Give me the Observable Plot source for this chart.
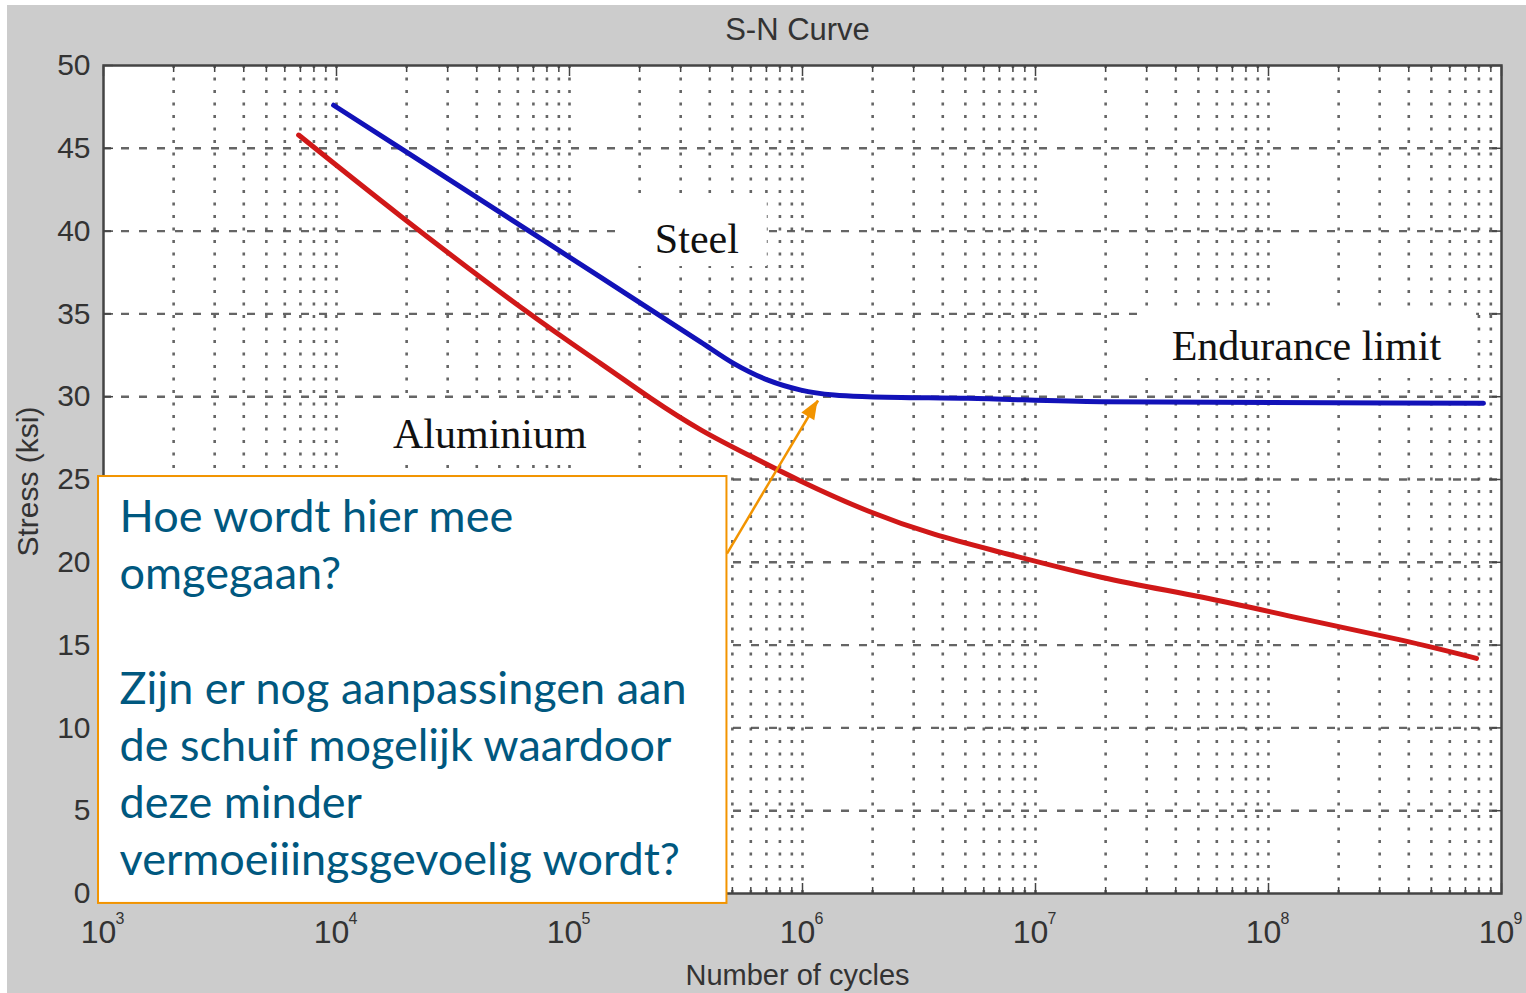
<!DOCTYPE html>
<html><head><meta charset="utf-8">
<script src="https://cdn.jsdelivr.net/npm/d3@7"></script>
<script src="https://cdn.jsdelivr.net/npm/@observablehq/plot@0.6"></script>
<style>
html,body{margin:0;padding:0;background:#fff;}
#chart{position:absolute;left:7px;top:5px;width:1519px;height:988px;background:#cccccc;overflow:hidden;}
</style></head><body><div id="chart"></div>
<script>
// ---- data ----
const steelCycles = [9.72e3, 1.887e4, 1.363e5, 3.66e5, 5.08e5, 7.11e5, 9.85e5, 1.366e6, 1.91e6, 5.14e6, 1.915e7, 8.37e8];
const steelStress = [47.6, 45.0, 37.2, 33.3, 32.0, 31.0, 30.4, 30.1, 30.0, 29.9, 29.7, 29.6];
const aluCycles = [6.88e3, 1.887e4, 6.18e4, 1.363e5, 2.236e5, 3.66e5, 6.01e5, 9.85e5, 1.912e6, 3.67e6, 7.12e6, 1.915e7, 5.15e7, 1.384e8, 3.72e8, 7.81e8];
const aluStress = [45.8, 40.9, 35.4, 32.0, 29.9, 28.0, 26.4, 24.9, 23.1, 21.7, 20.6, 19.1, 17.9, 16.6, 15.3, 14.2];

const decades = [1e3, 1e4, 1e5, 1e6, 1e7, 1e8, 1e9];
const exponents = ["3", "4", "5", "6", "7", "8", "9"];
const multiples = [1, 2, 3, 4, 5, 6, 7, 8, 9];
const stressTicks = [0, 5, 10, 15, 20, 25, 30, 35, 40, 45, 50];

const labelText = ["Steel", "Endurance limit", "Aluminium"];
const labelCycles = [3.52e5, 1.454e8, 4.55e4];
const labelStress = [38.7, 32.2, 26.9];
const labelBoxX1 = [1.712e5, 2.84e7, 1.473e4];
const labelBoxX2 = [7.06e5, 7.82e8, 1.363e5];
const labelBoxY1 = [37.86, 31.10, 25.85];
const labelBoxY2 = [41.97, 35.33, 29.89];

const calloutLines = ["Hoe wordt hier mee", "omgegaan?", "", "Zijn er nog aanpassingen aan", "de schuif mogelijk waardoor", "deze minder", "vermoeiiingsgevoelig wordt?"];
const calloutBoxX = [952, 4.74e5];
const calloutBoxY = [-0.60, 25.18];
const calloutTextX = [1172];
const calloutTextY = [1.09];
const arrowCycles = [4.74e5, 1.166e6];
const arrowStress = [20.53, 29.77];

// ---- derived helpers ----
const minorGrid = decades.slice(0, -1).flatMap(d => multiples.map(m => m * d)).filter(v => v > 1e3);
const minorOnly = minorGrid.filter(v => !decades.includes(v));
const steelIdx = d3.range(steelCycles.length);
const aluIdx = d3.range(aluCycles.length);
const labelIdx = d3.range(labelText.length);

const gridColor = "#4a4a4a";
const orange = "#f29400";

function arrowHead(index, scales) {
  const x1 = scales.x(arrowCycles[0]), y1 = scales.y(arrowStress[0]);
  const x2 = scales.x(arrowCycles[1]), y2 = scales.y(arrowStress[1]);
  const len = Math.hypot(x2 - x1, y2 - y1);
  const ux = (x2 - x1) / len, uy = (y2 - y1) / len;
  const nx = -uy, ny = ux;
  const L = 19, w = 7.5;
  const bx = x2 - L * ux, by = y2 - L * uy;
  const p = document.createElementNS("http://www.w3.org/2000/svg", "path");
  p.setAttribute("d", `M${x2},${y2}L${bx + w * nx},${by + w * ny}L${bx - w * nx},${by - w * ny}Z`);
  p.setAttribute("fill", orange);
  return p;
}

const sans = "'Liberation Sans', Arial, Helvetica, sans-serif";
const serif = "'Liberation Serif', 'Times New Roman', serif";

const chart = Plot.plot({
  width: 1519,
  height: 988,
  marginLeft: 96,
  marginRight: 25,
  marginTop: 60,
  marginBottom: 100,
  x: {type: "log", domain: [1e3, 1e9]},
  y: {domain: [0, 50]},
  style: {background: "transparent", fontFamily: sans, color: "#333", overflow: "visible"},
  marks: [
    Plot.frame({fill: "white"}),
    Plot.ruleX(minorGrid, {x: d => d, stroke: gridColor, strokeWidth: 2.6, strokeOpacity: 0.85, strokeDasharray: "3,9.5"}),
    Plot.ruleY(stressTicks.slice(1, -1), {y: d => d, stroke: gridColor, strokeWidth: 2.4, strokeOpacity: 0.85, strokeDasharray: "8,10"}),
    // inward ticks
    Plot.axisX({anchor: "bottom", ticks: minorOnly, tickSize: -6, tickFormat: () => "", label: null, stroke: "#444", strokeWidth: 1.5}),
    Plot.axisX({anchor: "bottom", ticks: decades, tickSize: -10, tickFormat: () => "", label: null, stroke: "#444", strokeWidth: 1.5}),
    Plot.axisX({anchor: "top", ticks: minorOnly, tickSize: -6, tickFormat: () => "", label: null, stroke: "#444", strokeWidth: 1.5}),
    Plot.axisX({anchor: "top", ticks: decades, tickSize: -10, tickFormat: () => "", label: null, stroke: "#444", strokeWidth: 1.5}),
    Plot.axisY({anchor: "right", ticks: stressTicks, tickSize: -10, tickFormat: () => "", label: null, stroke: "#444", strokeWidth: 1.5}),
    Plot.axisY({anchor: "left", ticks: stressTicks, tickSize: -10, tickFormat: () => "", label: null, stroke: "#444", strokeWidth: 1.5}),
    // y tick labels
    Plot.text(stressTicks, {y: d => d, text: d => String(d), frameAnchor: "left", textAnchor: "end", dx: -13, fontSize: 30, fill: "#333"}),
    // label boxes & labels
    Plot.rect(labelIdx, {x1: i => labelBoxX1[i], x2: i => labelBoxX2[i], y1: i => labelBoxY1[i], y2: i => labelBoxY2[i], fill: "white"}),
    Plot.text(labelIdx, {x: i => labelCycles[i], y: i => labelStress[i], text: i => labelText[i], lineAnchor: "bottom", fontFamily: serif, fontSize: 42, fill: "#111"}),
    // curves
    Plot.line(aluIdx, {x: i => aluCycles[i], y: i => aluStress[i], stroke: "#d01818", strokeWidth: 5, curve: "natural"}),
    Plot.line(steelIdx, {x: i => steelCycles[i], y: i => steelStress[i], stroke: "#1212b8", strokeWidth: 5, curve: "monotone-x"}),
    Plot.frame({stroke: "#444", strokeWidth: 2.5}),
    // x tick labels 10^n
    Plot.text(decades, {x: d => d, text: () => "10", frameAnchor: "bottom", lineAnchor: "top", dy: 27, dx: -5, fontSize: 32, fill: "#333"}),
    Plot.text(decades, {x: d => d, text: (d, i) => exponents[i], frameAnchor: "bottom", lineAnchor: "top", dy: 19, dx: 12, textAnchor: "start", fontSize: 16, fill: "#333"}),
    // titles
    Plot.text(["S-N Curve"], {text: d => d, frameAnchor: "top", textAnchor: "middle", lineAnchor: "bottom", dy: -26, dx: -5, fontSize: 31, fill: "#333"}),
    Plot.text(["Number of cycles"], {text: d => d, frameAnchor: "bottom", textAnchor: "middle", lineAnchor: "bottom", dy: 91, dx: -5, fontSize: 29, fill: "#333"}),
    Plot.text(["Stress (ksi)"], {text: d => d, frameAnchor: "left", textAnchor: "middle", rotate: -90, dx: -75, dy: 2, fontSize: 30, fill: "#333"}),
    // callout
    Plot.rect([0], {x1: () => calloutBoxX[0], x2: () => calloutBoxX[1], y1: () => calloutBoxY[0], y2: () => calloutBoxY[1], fill: "white", stroke: orange, strokeWidth: 2}),
    Plot.text([calloutLines.join("\n")], {x: () => calloutTextX[0], y: () => calloutTextY[0], text: d => d, textAnchor: "start", lineAnchor: "bottom", lineHeight: 1.273, fontFamily: "Lato, 'Open Sans', sans-serif", fontSize: 45, fill: "#00587f"}),
    Plot.link([0], {x1: () => arrowCycles[0], y1: () => arrowStress[0], x2: () => arrowCycles[1], y2: () => arrowStress[1], stroke: orange, strokeWidth: 2.5}),
    arrowHead
  ]
});
document.getElementById("chart").appendChild(chart);
</script>
</body></html>
